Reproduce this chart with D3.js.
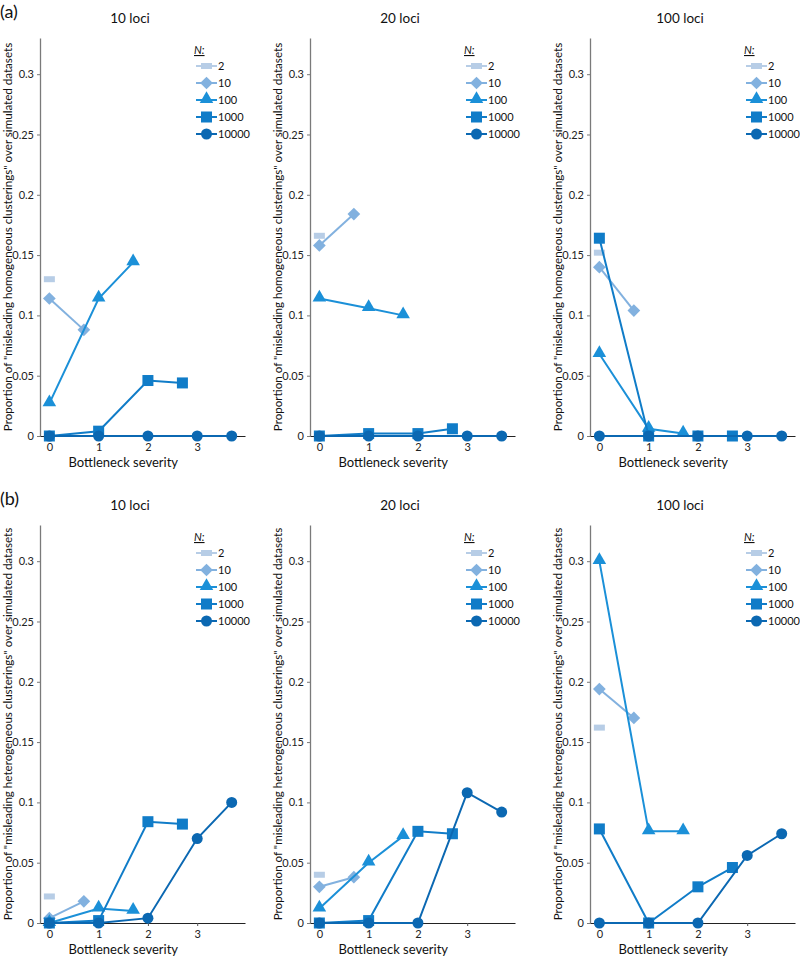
<!DOCTYPE html>
<html>
<head>
<meta charset="utf-8">
<script src="https://cdn.jsdelivr.net/npm/d3@7"></script>
<style>
  body { margin: 0; background: #fff; }
  svg { display: block; font-family: Lato, 'Open Sans', Arial, sans-serif; }
</style>
</head>
<body>
<div id="chart"></div>
<script>
// series names (N) and the bottleneck positions each series is plotted at
var seriesN = ['2', '10', '100', '1000', '10000'];
var seriesX = [
  [0],
  [0, 0.7],
  [0, 1, 1.7],
  [0, 1, 2, 2.7],
  [0, 1, 2, 3, 3.7]
];
var lociLabels = ['10 loci', '20 loci', '100 loci'];
var yTicks = [0, 0.05, 0.1, 0.15, 0.2, 0.25, 0.3];
var xTicks = [0, 1, 2, 3];

// (a) misleading homogeneous clusterings, per loci panel, per N
var homo10  = [[0.130], [0.114, 0.088], [0.027, 0.114, 0.144], [0, 0.004, 0.046, 0.044], [0, 0, 0, 0, 0]];
var homo20  = [[0.166], [0.158, 0.184], [0.114, 0.106, 0.100], [0, 0.002, 0.002, 0.006], [0, 0, 0, 0, 0]];
var homo100 = [[0.152], [0.140, 0.104], [0.068, 0.006, 0.002], [0.164, 0, 0, 0], [0, 0, 0, 0, 0]];

// (b) misleading heterogeneous clusterings
var hete10  = [[0.022], [0.004, 0.018], [0, 0.012, 0.010], [0, 0.002, 0.084, 0.082], [0, 0, 0.004, 0.070, 0.100]];
var hete20  = [[0.040], [0.030, 0.038], [0.012, 0.050, 0.072], [0, 0.002, 0.076, 0.074], [0, 0, 0, 0.108, 0.092]];
var hete100 = [[0.162], [0.194, 0.170], [0.300, 0.076, 0.076], [0.078, 0, 0.030, 0.046], [0, 0, 0, 0.056, 0.074]];

var colors = ['#b7cde6', '#82b1df', '#1b90d8', '#107cc8', '#0b68b2'];
var shapes = ['dash', 'diamond', 'triangle', 'square', 'circle'];

var W = 800, H = 956;
var svg = d3.select('#chart').append('svg').attr('width', W).attr('height', H);

var panelLeft = [40, 310, 590];
var plotW = 205;
var rows = [
  { tag: '(a)', top: 38, bottom: 436, data: [homo10, homo20, homo100], word: 'homogeneous' },
  { tag: '(b)', top: 525, bottom: 923, data: [hete10, hete20, hete100], word: 'heterogeneous' }
];

function fmt(v){ return String(+v.toFixed(2)); }

function drawMarker(g, shape, color, cx, cy){
  if (shape === 'dash') {
    g.append('rect').attr('x', cx - 5.5).attr('y', cy - 3).attr('width', 11).attr('height', 6).attr('fill', color);
  } else if (shape === 'diamond') {
    g.append('rect').attr('x', -4.5).attr('y', -4.5).attr('width', 9).attr('height', 9)
      .attr('fill', color).attr('transform', 'translate(' + cx + ',' + cy + ') rotate(45)');
  } else if (shape === 'triangle') {
    g.append('path').attr('d', d3.symbol(d3.symbolTriangle, 80)()).attr('fill', color)
      .attr('transform', 'translate(' + cx + ',' + (cy - 1) + ')');
  } else if (shape === 'square') {
    g.append('rect').attr('x', cx - 5.5).attr('y', cy - 5.5).attr('width', 11).attr('height', 11).attr('fill', color);
  } else {
    g.append('circle').attr('cx', cx).attr('cy', cy).attr('r', 5.5).attr('fill', color);
  }
}

rows.forEach(function(row){
  svg.append('text')
    .attr('x', 0).attr('y', row.top - 20)
    .style('font-size', '18px').style('fill', '#111')
    .text(row.tag);

  row.data.forEach(function(panel, p){
    var left = panelLeft[p];
    var x = d3.scaleLinear().domain([-0.19, 3.97]).range([left, left + plotW]);
    var y = d3.scaleLinear().domain([0, 0.33]).range([row.bottom, row.top]);
    var g = svg.append('g');

    // title
    g.append('text')
      .attr('x', left + 90).attr('y', row.top - 15)
      .attr('text-anchor', 'middle')
      .style('font-size', '13.5px').style('fill', '#111')
      .text(lociLabels[p]);

    // y axis
    var ay = g.append('g')
      .attr('transform', 'translate(' + left + ',0)')
      .call(d3.axisLeft(y).tickValues(yTicks).tickSize(3).tickSizeOuter(0).tickFormat(fmt));
    ay.select('.domain').attr('stroke', '#7a7a7a').attr('stroke-width', 1.3);
    ay.selectAll('line').attr('stroke', '#7a7a7a');
    ay.selectAll('text').style('font-size', '11px').style('fill', '#222').style('font-family', 'Lato, sans-serif');

    // x axis
    var ax = g.append('g')
      .attr('transform', 'translate(0,' + row.bottom + ')')
      .call(d3.axisBottom(x).tickValues(xTicks).tickSize(3).tickSizeOuter(0).tickPadding(4).tickFormat(d3.format('d')));
    ax.select('.domain').attr('stroke', '#222').attr('stroke-width', 1.2);
    ax.selectAll('line').attr('stroke', '#555');
    ax.selectAll('text').style('font-size', '11px').style('fill', '#222').style('font-family', 'Lato, sans-serif');

    g.append('text')
      .attr('x', x(1.5)).attr('y', row.bottom + 31)
      .attr('text-anchor', 'middle')
      .style('font-size', '13px').style('fill', '#111')
      .text('Bottleneck severity');

    // y label
    g.append('text')
      .attr('transform', 'translate(' + (left - 28) + ',' + ((row.top + row.bottom) / 2) + ') rotate(-90)')
      .attr('text-anchor', 'middle')
      .style('font-size', '11.6px').style('fill', '#111')
      .text('Proportion of "misleading ' + row.word + ' clusterings" over simulated datasets');

    // series
    var line = d3.line().x(function(d){ return x(d[0]); }).y(function(d){ return y(d[1]); });
    panel.forEach(function(vals, s){
      var pts = vals.map(function(v, i){ return [seriesX[s][i], v]; });
      g.append('path').datum(pts).attr('d', line)
        .attr('fill', 'none').attr('stroke', colors[s]).attr('stroke-width', 2);
      pts.forEach(function(pt){ drawMarker(g, shapes[s], colors[s], x(pt[0]), y(pt[1])); });
    });

    // legend
    var lx = left + 156, ly = row.top + 12;
    g.append('text')
      .attr('x', lx - 2).attr('y', ly + 4)
      .style('font-size', '11px').style('font-style', 'italic')
      .style('text-decoration', 'underline').style('fill', '#111')
      .text('N:');
    seriesN.forEach(function(n, s){
      var yy = ly + 16 + s * 17;
      g.append('line').attr('x1', lx).attr('x2', lx + 21).attr('y1', yy).attr('y2', yy)
        .attr('stroke', colors[s]).attr('stroke-width', 2);
      drawMarker(g, shapes[s], colors[s], lx + 10.5, yy);
      g.append('text').attr('x', lx + 22).attr('y', yy + 4)
        .style('font-size', '11px').style('fill', '#111')
        .text(n);
    });
  });
});
</script>
</body>
</html>
